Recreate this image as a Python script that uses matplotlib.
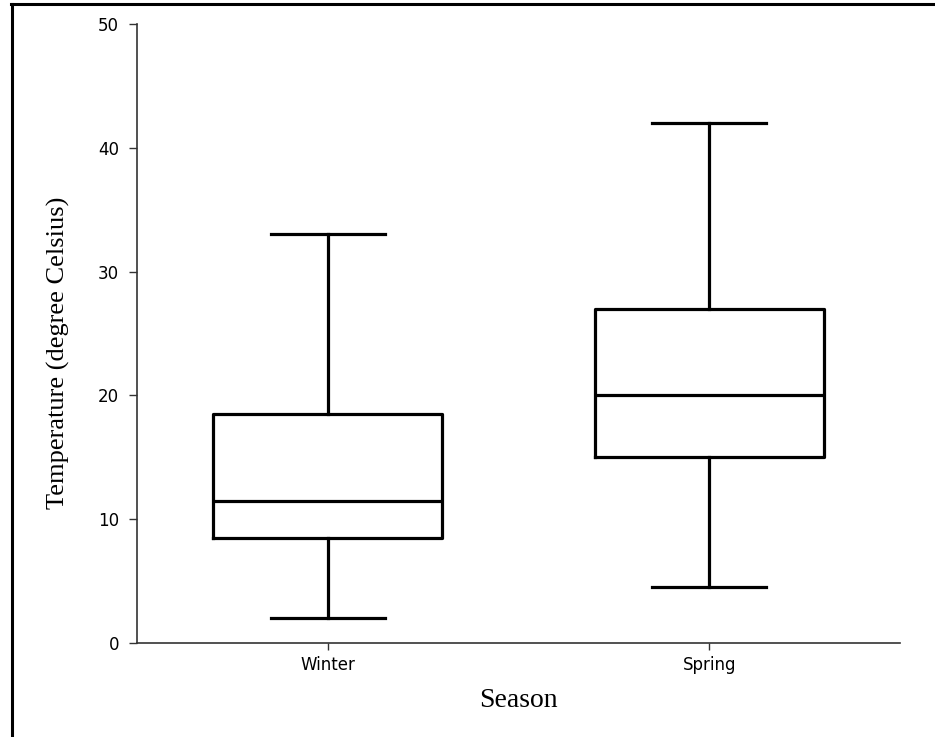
import matplotlib
matplotlib.use("Agg")
import matplotlib.pyplot as plt
from matplotlib.lines import Line2D

categories = ["Winter", "Spring"]
whislo = [2.0, 4.5]
q1 = [8.5, 15.0]
med = [11.5, 20.0]
q3 = [18.5, 27.0]
whishi = [33.0, 42.0]
yticks = [0, 10, 20, 30, 40, 50]

fig = plt.figure(figsize=(9.35, 7.37), dpi=100)
ax = fig.add_axes([137/935, 94/737, 763/935, 619/737])

stats = [dict(label=c, whislo=a, q1=b, med=m, q3=d, whishi=e, fliers=[])
         for c, a, b, m, d, e in zip(categories, whislo, q1, med, q3, whishi)]
lw = 2.3
ax.bxp(stats, positions=[0, 1], widths=0.6, showfliers=False,
       boxprops=dict(color="black", linewidth=lw),
       medianprops=dict(color="black", linewidth=lw),
       whiskerprops=dict(color="black", linewidth=lw),
       capprops=dict(color="black", linewidth=lw),
       capwidths=0.3)

ax.set_xlim(-0.5, 1.5)
ax.set_ylim(0, 50)
ax.set_yticks(yticks)
ax.set_xticks([0, 1])
ax.set_xticklabels(categories)
for s in ["top", "right"]:
    ax.spines[s].set_visible(False)
for s in ["left", "bottom"]:
    ax.spines[s].set_color("#333333")
    ax.spines[s].set_linewidth(1.2)
ax.tick_params(axis="y", length=6, width=1.0, color="#333333",
               labelsize=12, pad=7)
ax.tick_params(axis="x", length=5, width=1.0, color="#333333",
               labelsize=12, pad=4)
for lab in ax.get_xticklabels() + ax.get_yticklabels():
    lab.set_fontfamily("DejaVu Sans")

ax.set_ylabel("Temperature (degree Celsius)", fontfamily="Liberation Serif",
              fontsize=19)
ax.yaxis.set_label_coords(-0.088, 0.4685)
ax.set_xlabel("Season", fontfamily="Liberation Serif", fontsize=20)
ax.xaxis.set_label_coords(0.5, -0.072)

# figure border (left and top)
fig.add_artist(Line2D([12/935, 12/935], [0, 1 - 4/737], transform=fig.transFigure,
                      color="black", linewidth=2.2))
fig.add_artist(Line2D([11/935, 1], [1 - 4/737, 1 - 4/737], transform=fig.transFigure,
                      color="black", linewidth=2.2))

fig.savefig("out.png", dpi=100)
